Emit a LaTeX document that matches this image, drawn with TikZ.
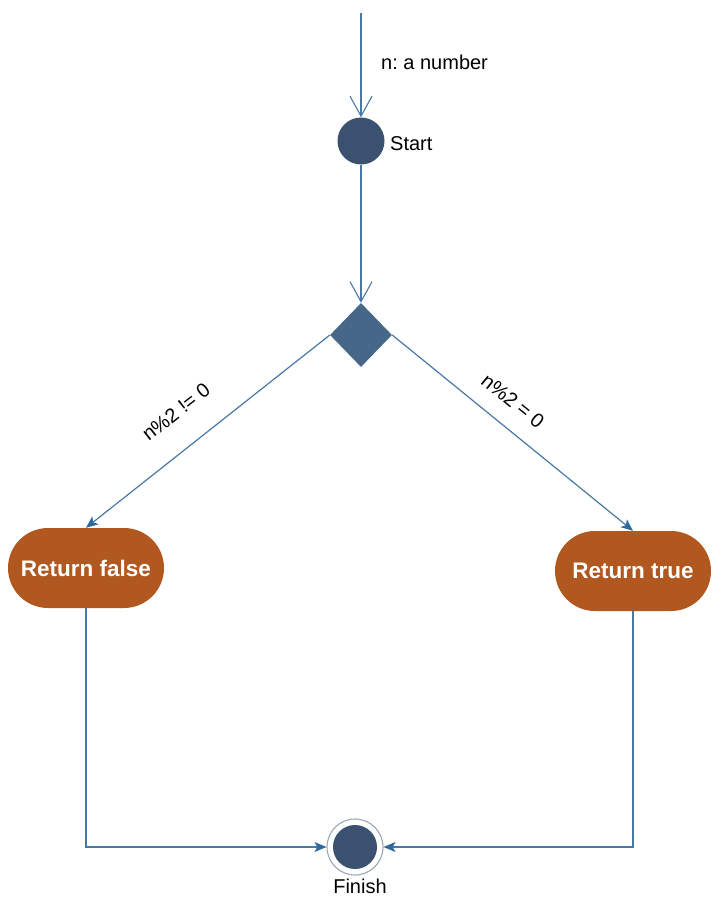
\documentclass[tikz,border=0pt]{standalone}
\usepackage{fontspec}
\setmainfont{Liberation Sans}
\usetikzlibrary{arrows.meta,shapes.geometric,shapes.misc,calc}
\definecolor{lineblue}{HTML}{4A78A6}
\definecolor{tipblue}{HTML}{2E6A9C}
\definecolor{darkdot}{HTML}{3A5170}
\definecolor{diafill}{HTML}{476789}
\definecolor{actfill}{HTML}{B0581F}
\definecolor{ringcol}{HTML}{9AA8B8}
\tikzset{
  flow/.style={draw=lineblue, line width=1.2pt},
  openarr/.style={flow, -{Straight Barb[length=20pt,width=22pt,line width=1.1pt]}},
  fillarr/.style={flow, -{Stealth[length=12pt,width=10pt,inset=3pt,color=tipblue]}},
  dot/.style={circle, fill=darkdot, minimum size=47pt, inner sep=0pt},
  decision/.style={diamond, fill=diafill, minimum width=62pt, minimum height=64pt, inner sep=0pt},
  action/.style={rounded rectangle, fill=actfill, text=white, font=\fontsize{22.5}{26}\selectfont\bfseries, minimum width=156pt, minimum height=80pt, inner sep=0pt},
  lbl/.style={font=\fontsize{20}{23}\selectfont\frenchspacing, inner sep=0pt},
  ring/.style={circle, draw=ringcol, line width=1.1pt, minimum size=56pt, inner sep=0pt},
  findot/.style={circle, fill=darkdot, minimum size=44pt, inner sep=0pt}
}
\begin{document}
\begin{tikzpicture}[x=1pt,y=-1pt]
\useasboundingbox[fill=white] (0,0) rectangle (727,912);
\coordinate (in) at (361,13);
\node[dot] (start) at (361,141) {};
\node[decision] (dec) at (361,335) {};
\node[action] (rf) at (86,568) {Return false};
\node[action] (rt) at (633,571) {Return true};
\node[ring] (fin) at (355,847) {};
\node[findot] (finin) at (355,847) {};
\node[lbl, anchor=west] (inlbl) at (381,62) {n: a number};
\node[lbl, anchor=west] (startlbl) at (390,144) {Start};
\node[lbl] (finlbl) at (360,886) {Finish};
\node[lbl, rotate=38] (lfl) at (176,412) {n\%2 != 0};
\node[lbl, rotate=-39] (rtl) at (513,401) {n\%2 = 0};
\draw[openarr] (in) -- (start.north);
\draw[openarr] (start.south) -- (dec.north);
\draw[fillarr] (dec.west) -- (rf.north);
\draw[fillarr] (dec.east) -- (rt.north);
\draw[fillarr] (rf.south) |- (fin.west);
\draw[fillarr] (rt.south) |- (fin.east);
\end{tikzpicture}
\end{document}
